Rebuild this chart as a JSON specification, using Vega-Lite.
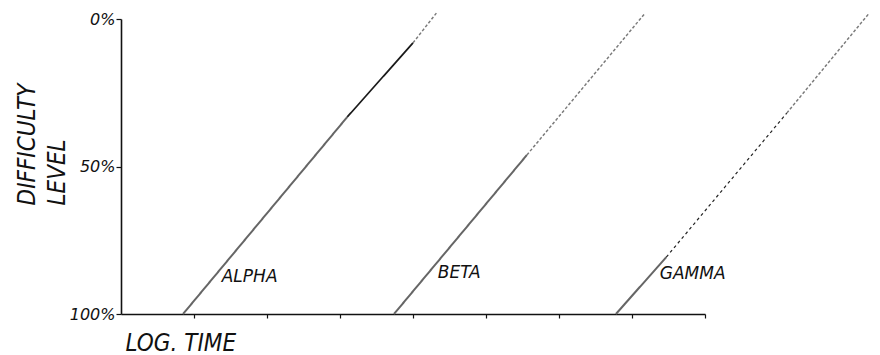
{
  "$schema": "https://vega.github.io/schema/vega-lite/v6.json",
  "width": 584,
  "height": 295,
  "autosize": "none",
  "padding": {"left": 121, "top": 19, "right": 175, "bottom": 41},
  "background": "white",
  "config": {"view": {"stroke": null}},
  "datasets": {
    "segs": [
      {"series": "ALPHA", "seg": "a1", "style": "gray", "t": 0.85, "d": 100},
      {"series": "ALPHA", "seg": "a1", "style": "gray", "t": 3.10, "d": 33.2},
      {"series": "ALPHA", "seg": "a2", "style": "black", "t": 3.10, "d": 33.2},
      {"series": "ALPHA", "seg": "a2", "style": "black", "t": 4.00, "d": 8.1},
      {"series": "ALPHA", "seg": "a3", "style": "graydash", "t": 4.00, "d": 8.1},
      {"series": "ALPHA", "seg": "a3", "style": "graydash", "t": 4.32, "d": -2.0},
      {"series": "BETA", "seg": "b1", "style": "gray", "t": 3.74, "d": 100},
      {"series": "BETA", "seg": "b1", "style": "gray", "t": 5.56, "d": 46.1},
      {"series": "BETA", "seg": "b2", "style": "graydash", "t": 5.56, "d": 46.1},
      {"series": "BETA", "seg": "b2", "style": "graydash", "t": 7.18, "d": -2.0},
      {"series": "GAMMA", "seg": "g1", "style": "gray", "t": 6.78, "d": 100},
      {"series": "GAMMA", "seg": "g1", "style": "gray", "t": 7.47, "d": 80.7},
      {"series": "GAMMA", "seg": "g2", "style": "blackdash", "t": 7.47, "d": 80.7},
      {"series": "GAMMA", "seg": "g2", "style": "blackdash", "t": 9.12, "d": 31.9},
      {"series": "GAMMA", "seg": "g3", "style": "graydash", "t": 9.12, "d": 31.9},
      {"series": "GAMMA", "seg": "g3", "style": "graydash", "t": 10.25, "d": -2.0}
    ],
    "labels": [
      {"series": "ALPHA", "t": 1.38, "d": 87.5},
      {"series": "BETA", "t": 4.34, "d": 86.1},
      {"series": "GAMMA", "t": 7.38, "d": 86.4}
    ]
  },
  "layer": [
    {
      "data": {"name": "segs"},
      "mark": {"type": "line", "clip": false},
      "encoding": {
        "x": {
          "field": "t", "type": "quantitative",
          "scale": {"domain": [0, 8], "nice": false, "zero": false},
          "axis": {
            "values": [1, 2, 3, 4, 5, 6, 7, 8],
            "labels": false, "grid": false,
            "domainColor": "#111", "domainWidth": 1.6,
            "tickColor": "#111", "tickWidth": 1.2, "tickSize": 4,
            "title": "LOG. TIME",
            "titleFont": "DejaVu Sans Condensed", "titleFontStyle": "italic",
            "titleFontWeight": "normal", "titleFontSize": 24, "titleColor": "#111",
            "titleAlign": "left", "titleAnchor": "start", "titleBaseline": "alphabetic",
            "titleX": 4, "titleY": 36
          }
        },
        "y": {
          "field": "d", "type": "quantitative",
          "scale": {"domain": [0, 100], "reverse": true, "nice": false, "zero": false},
          "axis": {
            "values": [0, 50, 100],
            "labelExpr": "datum.value + '%'",
            "grid": false,
            "domainColor": "#111", "domainWidth": 1.6,
            "tickColor": "#111", "tickWidth": 1.2, "tickSize": 5, "labelPadding": 1,
            "labelFont": "DejaVu Sans", "labelFontStyle": "italic", "labelFontSize": 16, "labelColor": "#111",
            "title": ["DIFFICULTY", "LEVEL"],
            "titleFont": "DejaVu Sans Condensed", "titleFontStyle": "italic",
            "titleFontWeight": "normal", "titleFontSize": 24, "titleColor": "#111",
            "titleLineHeight": 30,
            "titleAngle": -90, "titleAlign": "left", "titleBaseline": "alphabetic",
            "titleX": -87, "titleY": 186
          }
        },
        "detail": {"field": "seg"},
        "color": {
          "field": "style", "type": "nominal", "legend": null,
          "scale": {"domain": ["gray", "black", "graydash", "blackdash"], "range": ["#666666", "#1a1a1a", "#7a7a7a", "#222222"]}
        },
        "strokeDash": {
          "field": "style", "type": "nominal", "legend": null,
          "scale": {"domain": ["gray", "black", "graydash", "blackdash"], "range": [[1, 0], [1, 0], [3, 2], [3, 3]]}
        },
        "strokeWidth": {
          "field": "style", "type": "nominal", "legend": null,
          "scale": {"domain": ["gray", "black", "graydash", "blackdash"], "range": [2, 1.2, 2.4, 1.6]}
        }
      }
    },
    {
      "data": {"name": "labels"},
      "mark": {"type": "text", "align": "left", "baseline": "middle", "font": "DejaVu Sans", "fontStyle": "italic", "fontSize": 17, "color": "#111"},
      "encoding": {
        "x": {"field": "t", "type": "quantitative"},
        "y": {"field": "d", "type": "quantitative"},
        "text": {"field": "series"}
      }
    }
  ]
}
